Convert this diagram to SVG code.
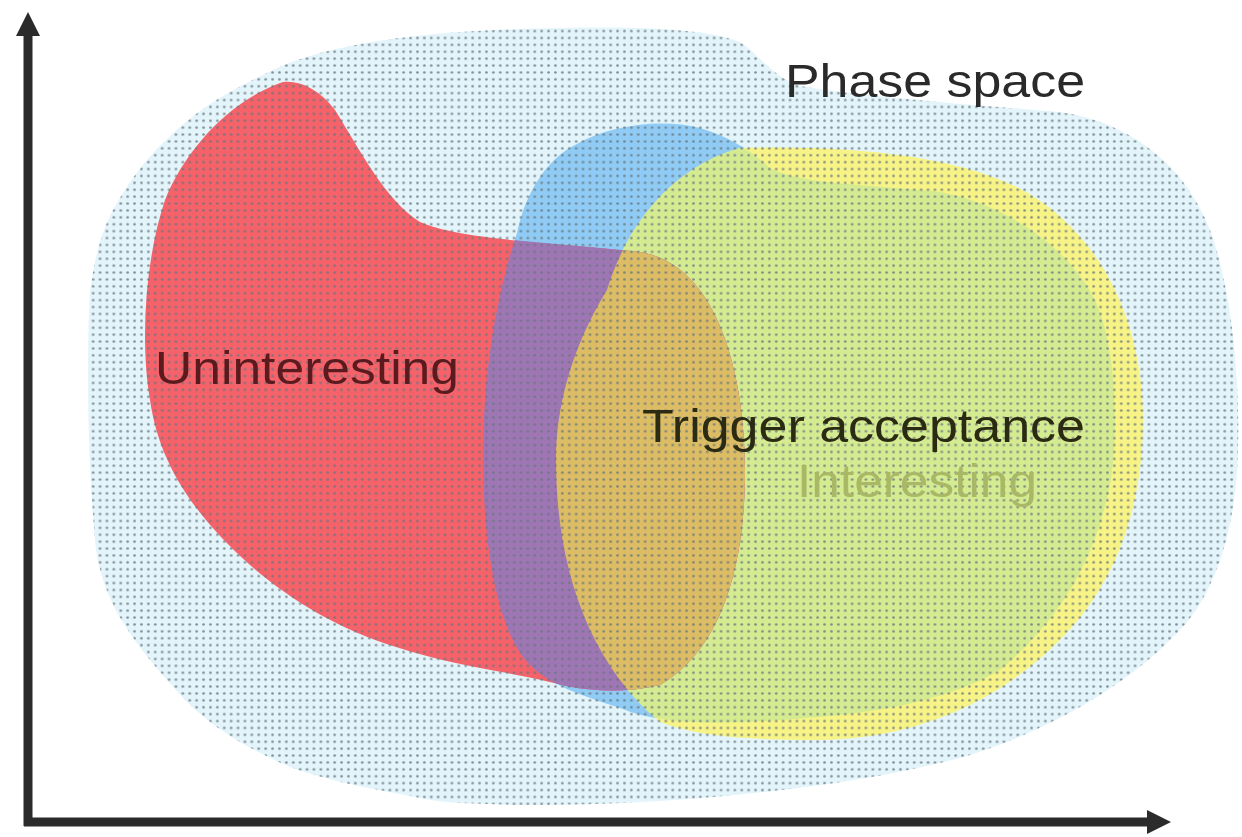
<svg xmlns="http://www.w3.org/2000/svg" xmlns:xlink="http://www.w3.org/1999/xlink" width="1242" height="837" viewBox="0 0 1242 837">
<style>
.lbl{font-family:"Liberation Sans",Arial,sans-serif;font-size:46px}
.axis{stroke:#2b2b2b;stroke-width:9;fill:none}
</style>
<defs>
<pattern id="dots" width="6.9" height="6.9" patternUnits="userSpaceOnUse">
<circle cx="3.45" cy="3.45" r="1.35" fill="#66767d" fill-opacity="0.8"/>
</pattern>
<path id="phaseShape" d="M 267,73 C 320,45 420,30 560,28 C 650,26 710,30 740,42 C 760,55 770,75 800,86 C 860,96 960,104 1060,112 C 1130,122 1185,165 1210,230 C 1232,290 1240,380 1238,450 C 1236,530 1215,600 1170,640 C 1120,690 1040,735 960,758 C 830,792 650,806 520,805 C 470,804 440,802 431,800 C 380,790 330,782 290,767 C 240,745 210,725 185,700 C 140,650 105,610 96,550 C 88,470 86,360 90,293 C 95,250 105,225 113,210 C 130,180 145,160 163,143 C 195,110 230,90 267,73 Z"/>
<path id="blueShape" d="M 517,233 C 525,195 545,160 575,145 C 610,125 660,118 700,128 C 730,137 750,150 770,168 C 800,185 880,185 940,192 C 1010,205 1070,250 1095,300 C 1118,350 1118,440 1110,485 C 1095,560 1060,620 1000,670 C 940,705 860,715 780,720 C 720,724 660,725 620,708 C 580,695 550,685 530,665 C 500,635 485,560 483,470 C 482,380 495,300 517,233 Z"/>
<path id="yellowShape" d="M 556,460 C 556,560 585,660 660,722 C 700,738 760,740 820,740 C 920,738 1000,700 1060,640 C 1120,580 1143,500 1143,420 C 1143,320 1100,230 1017,187 C 950,155 850,145 740,148 C 680,165 630,215 607,290 C 570,350 556,410 556,460 Z"/>
<path id="redShape" d="M 283,82 C 300,80 320,90 335,110 C 360,150 385,200 420,222 C 460,240 560,243 640,252 C 720,265 745,380 745,470 C 745,570 720,650 660,685 C 620,695 580,690 554,683 C 500,670 450,665 396,647 C 340,630 290,600 250,565 C 200,520 160,470 150,400 C 140,340 145,260 165,200 C 185,150 230,100 283,82 Z"/>
<clipPath id="clipBlue"><use xlink:href="#blueShape"/></clipPath>
<clipPath id="clipYellow"><use xlink:href="#yellowShape"/></clipPath>
</defs>
<rect width="1242" height="837" fill="#ffffff"/>
<g id="phase-space">
<use xlink:href="#phaseShape" fill="#e3f5fb"/>
</g>
<g id="trigger-acceptance">
<use xlink:href="#blueShape" fill="#8fcbf4"/>
</g>
<g id="interesting">
<use xlink:href="#yellowShape" fill="#f7f386"/>
<use xlink:href="#blueShape" fill="#d5eb91" clip-path="url(#clipYellow)"/>
</g>
<g id="uninteresting">
<use xlink:href="#redShape" fill="#f5626a"/>
<use xlink:href="#redShape" fill="#9f76b4" clip-path="url(#clipBlue)"/>
<use xlink:href="#redShape" fill="#dcbc64" clip-path="url(#clipYellow)"/>
</g>
<g id="dot-screen">
<use xlink:href="#phaseShape" fill="url(#dots)"/>
</g>
<g id="axes">
<line class="axis" x1="28" y1="826" x2="28" y2="30"/>
<line class="axis" x1="24" y1="822" x2="1150" y2="822"/>
<polygon points="28,12 16,36 40,36" fill="#2b2b2b"/>
<polygon points="1171,822 1147,810 1147,834" fill="#2b2b2b"/>
</g>
<g id="labels">
<text class="lbl" x="785" y="97" textLength="300" lengthAdjust="spacingAndGlyphs" fill="#2a2a2a">Phase space</text>
<text class="lbl" x="155" y="384" textLength="304" lengthAdjust="spacingAndGlyphs" fill="#5a1a1e">Uninteresting</text>
<text class="lbl" x="642" y="442" textLength="443" lengthAdjust="spacingAndGlyphs" fill="#2b2a12">Trigger acceptance</text>
<text class="lbl" x="797" y="497" textLength="240" lengthAdjust="spacingAndGlyphs" fill="#a9b866">Interesting</text>
</g>
</svg>
